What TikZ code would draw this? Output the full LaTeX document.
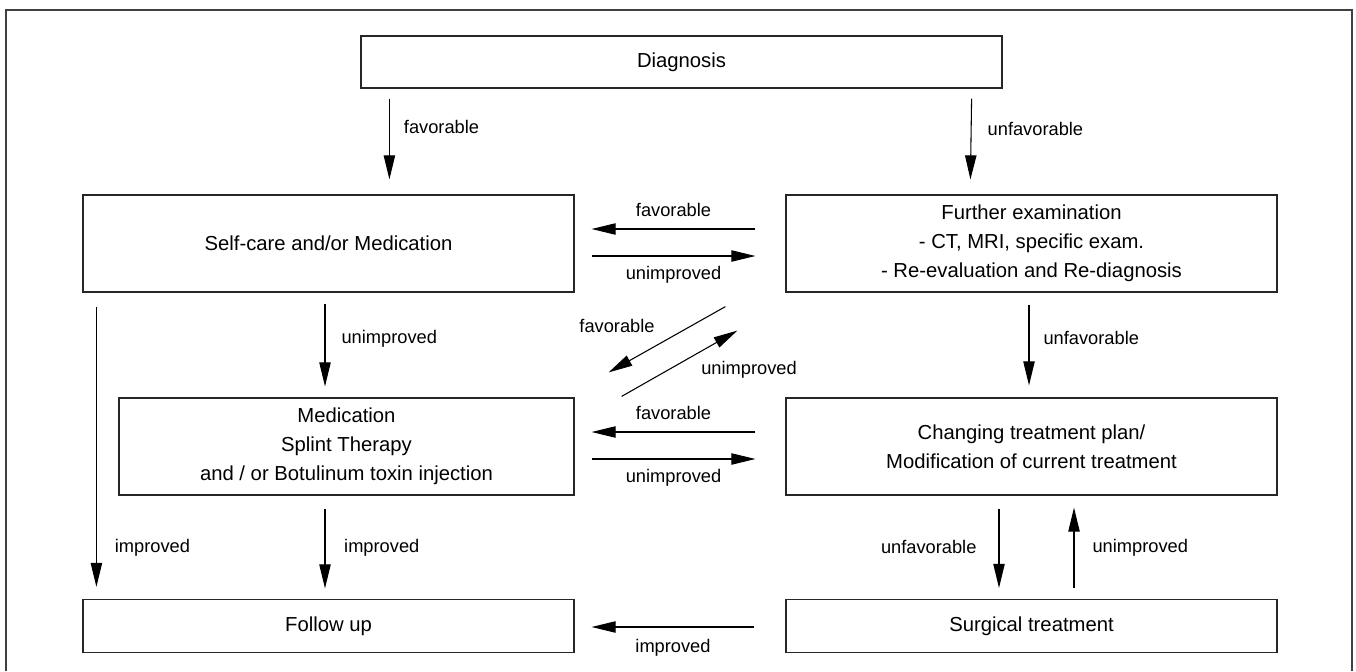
\documentclass[tikz,border=0pt]{standalone}
\usepackage{fontspec}
\setmainfont{Liberation Sans}
\usetikzlibrary{arrows.meta,calc}

\tikzset{
  box/.style={draw=black!85, line width=0.9pt, align=center, inner sep=0pt,
    font=\fontsize{15.2}{21.75}\selectfont},
  wide/.style={box, minimum width=368.25pt, minimum height=72.75pt},
  flat/.style={box, minimum width=368.25pt, minimum height=39.75pt},
  lab/.style={font=\fontsize{13.7}{16}\selectfont, inner sep=1pt},
  arr/.style={line width=0.8pt, -{Triangle[length=18pt,width=8.5pt]}},
}

\begin{document}
\begin{tikzpicture}[x=0.75pt,y=0.75pt,yscale=-1,xscale=1]
    \useasboundingbox (0,0) rectangle (1356,671);

    %Shape: Frame
    \draw [black!75, line width=1pt] (6,671) -- (6,10) -- (1352,10) -- (1352,671) ;

    %Shape: Rectangle [diag]
    \node [box, minimum width=480.75pt, minimum height=39pt] (diag) at (681.5,62) {Diagnosis};
    %Shape: Rectangle [self]
    \node [wide] (self) at (328.5,243.5) {Self-care and/or Medication};
    %Shape: Rectangle [exam]
    \node [wide] (exam) at (1031.5,243.5) {Further examination\\- CT, MRI, specific exam.\\- Re-evaluation and Re-diagnosis};
    %Shape: Rectangle [medi]
    \node [box, minimum width=341.25pt, minimum height=72.75pt] (medi) at (346.5,446.5) {Medication\\Splint Therapy\\and / or Botulinum toxin injection};
    %Shape: Rectangle [plan]
    \node [wide] (plan) at (1031.5,446.5) {Changing treatment plan/\\Modification of current treatment};
    %Shape: Rectangle [follow]
    \node [flat] (follow) at (328.5,626) {Follow up};
    %Shape: Rectangle [surg]
    \node [flat] (surg) at (1031.5,626) {Surgical treatment};

    %Straight Lines: from diagnosis
    \draw [arr] ($(diag.south west)+(29,10)$) -- node [lab, pos=.35, right=9.5pt] {favorable} ($(self.north west)+(307,-15)$) ;
    \draw [arr] ($(diag.south east)+(-31,10)$) -- node [lab, pos=.37, right=11pt] {unfavorable} ($(exam.north west)+(185,-15)$) ;

    %Straight Lines: upper row
    \draw [arr] ($(exam.west)+(-30,-14.5)$) -- node [lab, above=8pt] {favorable} ($(self.east)+(17,-14.5)$) ;
    \draw [arr] ($(self.east)+(17,12.5)$) -- node [lab, below=6pt] {unimproved} ($(exam.west)+(-30,12.5)$) ;

    %Straight Lines: diagonals
    \draw [arr] ($(exam.south west)+(-60,14)$) -- node [lab, pos=.5, shift={(-50,13.5)}] {favorable} ($(medi.north east)+(34,-25)$) ;
    \draw [arr] ($(medi.north east)+(47,-1)$) -- node [lab, pos=.5, shift={(69.5,-6.5)}] {unimproved} ($(exam.south west)+(-48,38)$) ;

    %Straight Lines: lower row
    \draw [arr] ($(plan.west)+(-30,-14.5)$) -- node [lab, above=8pt] {favorable} ($(medi.east)+(17,-14.5)$) ;
    \draw [arr] ($(medi.east)+(17,12.5)$) -- node [lab, below=6pt] {unimproved} ($(plan.west)+(-30,12.5)$) ;

    %Straight Lines: left column
    \draw [arr] ($(self.south)+(-3.5,11)$) -- node [lab, pos=.43, right=11pt] {unimproved} ($(medi.north)+(-21.5,-11)$) ;
    \draw [arr] ($(self.south west)+(14,14)$) -- node [lab, pos=.86, right=12.5pt] {improved} ($(follow.north west)+(14,-12)$) ;
    \draw [arr] ($(medi.south)+(-21.5,13)$) -- node [lab, pos=.49, right=13pt] {improved} ($(follow.north)+(-3.5,-10.5)$) ;

    %Straight Lines: right column
    \draw [arr] ($(exam.south)+(-2.5,12)$) -- node [lab, pos=.41, right=9.5pt] {unfavorable} ($(plan.north)+(-2.5,-12)$) ;
    \draw [arr] ($(plan.south)+(-32.5,13)$) -- node [lab, pos=.49, left=15.5pt] {unfavorable} ($(surg.north)+(-32.5,-11)$) ;
    \draw [arr] ($(surg.north)+(42.5,-11)$) -- node [lab, pos=.5, right=12.5pt] {unimproved} ($(plan.south)+(42.5,12)$) ;

    %Straight Lines: to follow up
    \draw [arr] ($(surg.west)+(-31,1)$) -- node [lab, below=8pt] {improved} ($(follow.east)+(17,1)$) ;
\end{tikzpicture}
\end{document}
